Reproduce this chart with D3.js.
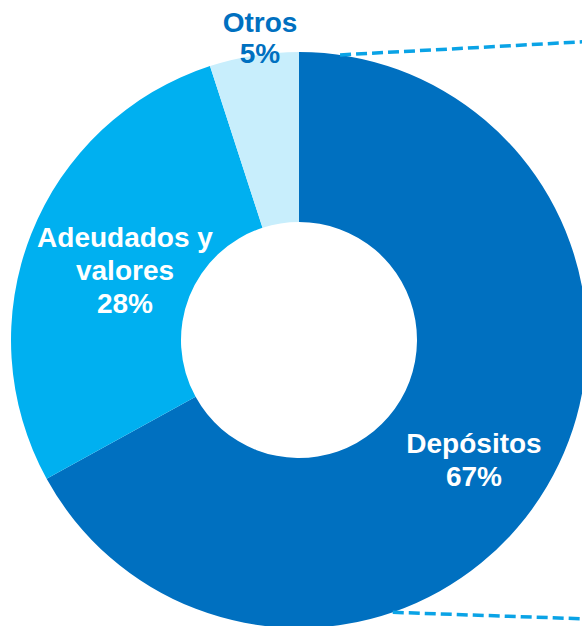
<!DOCTYPE html>
<html>
<head>
<meta charset="utf-8">
<script src="https://cdn.jsdelivr.net/npm/d3@7"></script>
<style>
  html, body { margin: 0; padding: 0; background: #fff; }
  svg { display: block; }
</style>
</head>
<body>
<svg id="chart" width="582" height="626"></svg>
<script>
// Funding structure: share of each source
const categories = ["Depósitos", "Adeudados y valores", "Otros"];
const values = [67, 28, 5];
const labelLines = [["Depósitos"], ["Adeudados y", "valores"], ["Otros"]];
const colors = ["#0070C0", "#00B0F0", "#C8EEFC"];
const textColors = ["#ffffff", "#ffffff", "#0070C0"];

const W = 582, H = 626;
const cx = 299, cy = 340;
const outerR = 288, innerR = 118;

const svg = d3.select("#chart");

const pie = d3.pie().sort(null).value(d => d)
  .startAngle(0).endAngle(2 * Math.PI);
const arcs = pie(values);

const arc = d3.arc().innerRadius(innerR).outerRadius(outerR);

const g = svg.append("g").attr("transform", `translate(${cx},${cy})`);

g.selectAll("path.slice")
  .data(arcs)
  .join("path")
  .attr("class", "slice")
  .attr("d", arc)
  .attr("fill", (d, i) => colors[i]);

// Dashed connector lines leaving the big slice toward the right edge
const edgePoint = (deg) => {
  const a = deg * Math.PI / 180;
  return [cx + outerR * Math.sin(a), cy - outerR * Math.cos(a)];
};
const connectors = [
  { from: edgePoint(8.2), to: [W + 6, 41.5] },
  { from: edgePoint(161), to: [W + 6, 619] }
];
svg.selectAll("line.connector")
  .data(connectors)
  .join("line")
  .attr("class", "connector")
  .attr("x1", d => d.from[0])
  .attr("y1", d => d.from[1])
  .attr("x2", d => d.to[0])
  .attr("y2", d => d.to[1])
  .attr("stroke", "#0AA3E6")
  .attr("stroke-width", 3.5)
  .attr("stroke-dasharray", "11 5");

// Labels
const fontSize = 28, lineH = 33;
const labelPos = [
  { x: 474, y: 453 },   // Depósitos (baseline of first line)
  { x: 125, y: 247 },   // Adeudados y valores
  { x: 260, y: 32 }     // Otros
];

arcs.forEach((d, i) => {
  const lines = labelLines[i].concat([d3.format("d")(values[i]) + "%"]);
  const t = svg.append("text")
    .attr("x", labelPos[i].x)
    .attr("y", labelPos[i].y)
    .attr("text-anchor", "middle")
    .attr("font-family", "'Liberation Sans', Arial, sans-serif")
    .attr("font-weight", "bold")
    .attr("font-size", fontSize)
    .attr("fill", textColors[i]);
  lines.forEach((ln, k) => {
    t.append("tspan")
      .attr("x", labelPos[i].x)
      .attr("y", labelPos[i].y + k * (i === 2 ? 31 : lineH))
      .text(ln);
  });
});
</script>
</body>
</html>
